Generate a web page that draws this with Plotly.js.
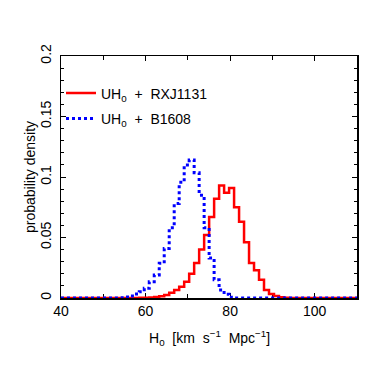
<!DOCTYPE html>
<html>
<head>
<meta charset="utf-8">
<script src="https://cdn.plot.ly/plotly-3.0.1.min.js"></script>
<style>
  html, body { margin: 0; padding: 0; background: #fff; }
  #chart { width: 374px; height: 374px; }
</style>
</head>
<body>
<div id="chart"></div>
<script>
// left edges of the histogram bins (H0), padded with the axis ends
const binEdges = [40, 52.61, 53.79, 54.97, 56.15, 57.33, 58.51, 59.69, 60.87, 62.05, 63.23,
    64.41, 65.59, 66.77, 67.95, 69.13, 70.31, 71.49, 72.67, 73.85, 75.03,
    76.21, 77.39, 78.57, 79.75, 80.93, 82.11, 83.29, 84.47, 85.65, 86.83,
    88.01, 89.19, 90.37, 91.55, 92.73, 93.91, 110];

// UH0 + RXJ1131
const densRXJ = [0, 0, 0, 0, 0, 0.0001, 0.0002, 0.0003, 0.0005, 0.0008, 0.0014,
    0.0025, 0.0044, 0.0066, 0.0093, 0.0135, 0.020, 0.029, 0.040, 0.052, 0.067,
    0.082, 0.093, 0.087, 0.091, 0.075, 0.063, 0.046, 0.029, 0.023, 0.015,
    0.0066, 0.0033, 0.0016, 0.0006, 0.0003, 0, 0];

// UH0 + B1608
const densB1608 = [0, 0.0001, 0.0003, 0.0008, 0.0017, 0.0033, 0.0052, 0.008, 0.0135, 0.019, 0.0287,
    0.041, 0.058, 0.078, 0.0956, 0.110, 0.114, 0.1036, 0.085, 0.058, 0.033,
    0.015, 0.0066, 0.003, 0.0006, 0, 0, 0, 0, 0, 0,
    0, 0, 0, 0, 0, 0, 0];

const seriesNames = ['UH<sub>0</sub>  +  RXJ1131', 'UH<sub>0</sub>  +  B1608'];
const xTickVals = [40, 60, 80, 100];
const yTickVals = [0, 0.05, 0.1, 0.15, 0.2];
const yTickText = ['0', '0.05', '0.1', '0.15', '0.2'];

const font = 'Liberation Sans, Arial, sans-serif';
const textFont = { family: font, size: 14, color: '#000' };

const traces = [
    {
        x: binEdges,
        y: densRXJ,
        type: 'scatter',
        mode: 'lines',
        name: seriesNames[0],
        legend: 'legend',
        line: { color: '#ff0000', width: 2.5, shape: 'hv' },
        cliponaxis: false
    },
    {
        x: binEdges,
        y: densB1608,
        type: 'scatter',
        mode: 'lines',
        name: seriesNames[1],
        legend: 'legend2',
        line: { color: '#0000ff', width: 3, shape: 'hv', dash: 'dot' },
        cliponaxis: false
    }
];

const axisCommon = {
    showgrid: false,
    zeroline: false,
    showline: true,
    linecolor: '#000',
    linewidth: 1.5,
    mirror: 'allticks',
    ticks: 'inside',
    ticklen: 5,
    tickwidth: 1,
    tickcolor: '#000',
    layer: 'below traces',
    tickfont: textFont
};

const legendCommon = {
    xanchor: 'left', yanchor: 'middle',
    bgcolor: 'rgba(0,0,0,0)',
    itemwidth: 30,
    font: textFont
};

const layout = {
    width: 374,
    height: 374,
    margin: { l: 61, r: 17, t: 56, b: 76 },
    paper_bgcolor: '#fff',
    plot_bgcolor: '#fff',
    showlegend: true,
    legend: Object.assign({}, legendCommon, { x: 0.0, y: 0.845 }),
    legend2: Object.assign({}, legendCommon, { x: 0.0, y: 0.74 }),
    xaxis: Object.assign({}, axisCommon, {
        range: [40, 110],
        tickvals: xTickVals,
        minor: { dtick: 10, ticks: 'inside', ticklen: 4, tickcolor: '#000' }
    }),
    yaxis: Object.assign({}, axisCommon, {
        range: [0, 0.2],
        tickvals: yTickVals,
        ticktext: yTickText,
        tickangle: -90,
        ticklabelstandoff: 3,
        minor: { dtick: 0.01, ticks: 'inside', ticklen: 3, tickcolor: '#000' }
    }),
    annotations: [
        {
            text: 'H<sub>0</sub>  [km  s<sup>\u22121</sup>  Mpc<sup>\u22121</sup>]',
            xref: 'paper', yref: 'paper', x: 0.5, y: 0,
            xanchor: 'center', yanchor: 'middle', yshift: -40,
            showarrow: false, font: textFont
        },
        {
            text: 'probability density',
            xref: 'paper', yref: 'paper', x: 0, y: 0.5,
            xanchor: 'center', yanchor: 'middle', xshift: -31,
            textangle: -90,
            showarrow: false, font: textFont
        }
    ]
};

Plotly.newPlot('chart', traces, layout, { displayModeBar: false, staticPlot: true });
</script>
</body>
</html>
